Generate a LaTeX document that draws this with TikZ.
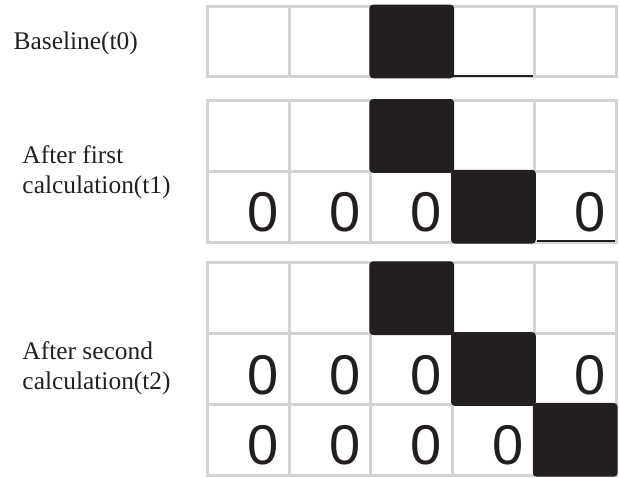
\documentclass[tikz,border=0pt]{standalone}
\usepackage{fontspec}
\setmainfont{Liberation Serif}
\newfontfamily\digitfont{Liberation Sans}
\usetikzlibrary{positioning}
\definecolor{gridln}{HTML}{D1D3D4}
\definecolor{ink}{HTML}{231F20}
\tikzset{
  cell/.style={draw=gridln, line width=3pt, minimum width=81.7pt, minimum height=70.8pt,
               inner sep=0pt, outer sep=0pt},
  zcell/.style={cell, font=\digitfont\fontsize{56}{56}\selectfont, text=ink,
                text width=60.7pt, align=right, inner xsep=10.5pt, text height=50pt, text depth=0pt},
  hit/.style={cell, fill=ink, draw=ink, rounded corners=2.5pt},
  edge/.style={draw=ink, line width=2pt},
  lbl/.style={font=\fontsize{25.4}{30}\selectfont, text=ink, align=left, inner sep=0pt}
}
\begin{document}
\begin{tikzpicture}[x=1pt,y=-1pt]
  \useasboundingbox (0,0) rectangle (619,477);
  % row labels
  \node[lbl, anchor=base west] (l0) at (13.5,49.3) {Baseline(t0)};
  \node[lbl, anchor=west] (l1) at (22.3,171.8) {After first\\calculation(t1)};
  \node[lbl, anchor=west] (l2) at (22.3,368.6) {After second\\calculation(t2)};

  % top rows of the three grids
  \foreach \g/\y in {a/41.4, b/135.9, c/298.2}
    \foreach \c in {1,...,5}
      \node[cell] (\g1\c) at (166.65+81.7*\c,\y) {};
  % rows with zeros
  \foreach \c/\t in {1/0,2/0,3/0,4/{},5/0}
    \node[zcell] (b2\c) at (166.65+81.7*\c,206.7) {\t};
  \foreach \c/\t in {1/0,2/0,3/0,4/{},5/0}
    \node[zcell] (c2\c) at (166.65+81.7*\c,369) {\t};
  \foreach \c/\t in {1/0,2/0,3/0,4/0,5/{}}
    \node[zcell] (c3\c) at (166.65+81.7*\c,439.8) {\t};

  % filled cells
  \node[hit] (ka) at (a13) {};
  \node[hit] (kb1) at (b13) {};
  \node[hit] (kb2) at (b24) {};
  \node[hit] (kc1) at (c13) {};
  \node[hit] (kc2) at (c24) {};
  \node[hit] (kc3) at (c35) {};

  \draw[edge, shorten >=1.5pt] ([yshift=1pt]a14.south west) -- ([yshift=1pt]a14.south east);
  \draw[edge, shorten <=2.5pt, shorten >=1pt] ([yshift=1pt]b25.south west) -- ([yshift=1pt]b25.south east);
\end{tikzpicture}
\end{document}
